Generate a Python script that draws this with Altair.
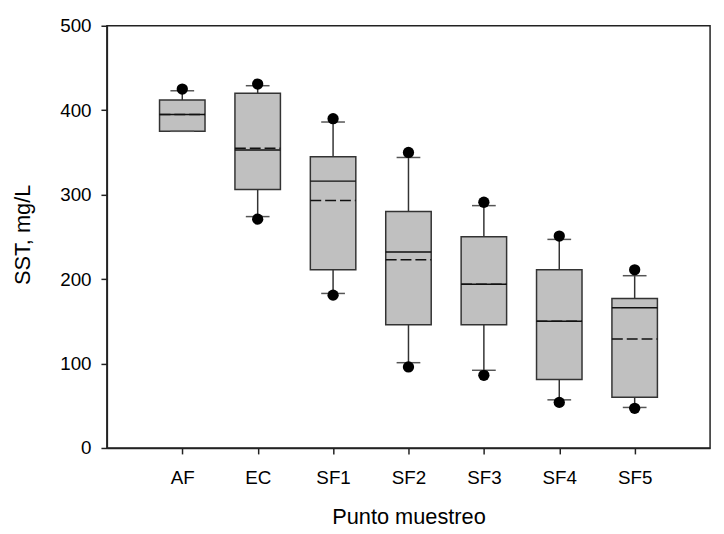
import altair as alt
import pandas as pd

categories = ["AF", "EC", "SF1", "SF2", "SF3", "SF4", "SF5"]
q1 = [375, 306, 211, 146, 146, 81, 60]
median = [395, 353, 316, 232, 194, 150, 166]
mean = [395, 355, 293, 223, 194, 150, 129]
q3 = [412, 420, 345, 280, 250, 211, 177]
whisker_low = [375, 274, 183, 101, 92, 57, 48]
whisker_high = [423, 429, 386, 344, 287, 247, 204]
outlier_low = [None, 271, 181, 96, 86, 54, 47]
outlier_high = [425, 431, 390, 350, 291, 251, 211]

df = pd.DataFrame({
    "cat": categories, "q1": q1, "median": median, "mean": mean, "q3": q3,
    "wlo": whisker_low, "whi": whisker_high,
    "olo": outlier_low, "ohi": outlier_high,
})

FONT = "Liberation Sans"
yscale = alt.Scale(domain=[0, 500], nice=False)
yaxis = alt.Axis(values=[0, 100, 200, 300, 400, 500], titleX=-78, titleY=211,
                 titleBaseline="alphabetic", labelPadding=10)
xaxis = alt.Axis(labelAngle=0, labelBaseline="alphabetic", labelPadding=30,
                 titleY=76, titleBaseline="alphabetic")


def Y(field):
    return alt.Y(field, type="quantitative", scale=yscale, axis=yaxis, title="SST, mg/L")


X = alt.X("cat:N", sort=categories, scale=alt.Scale(type="point", padding=1),
          axis=xaxis, title="Punto muestreo")
base = alt.Chart(df).encode(x=X)

w_hi = base.mark_rule(color="#333", strokeWidth=1.5).encode(y=Y("q3"), y2="whi:Q")
w_lo = base.mark_rule(color="#333", strokeWidth=1.5).encode(y=Y("wlo"), y2="q1:Q")
box = base.mark_bar(size=46, fill="#c0c0c0", stroke="#333", strokeWidth=1.5).encode(
    y=Y("q1"), y2="q3:Q")
med = base.mark_rule(color="#111", strokeWidth=1.5, xOffset=-23, x2Offset=23).encode(
    x2=alt.X2("cat"), y=Y("median"))
mn = base.mark_rule(color="#111", strokeWidth=1.5, strokeDash=[11, 4],
                    xOffset=-23, x2Offset=23).encode(x2=alt.X2("cat"), y=Y("mean"))
cap_hi = base.mark_rule(color="#555", strokeWidth=1.5, xOffset=-12, x2Offset=12).encode(
    x2=alt.X2("cat"), y=Y("whi"))
cap_lo = base.mark_rule(color="#555", strokeWidth=1.5, xOffset=-12, x2Offset=12).encode(
    x2=alt.X2("cat"), y=Y("wlo"))
dot_hi = base.mark_circle(size=130, color="black", opacity=1).encode(y=Y("ohi"))
dot_lo = base.mark_circle(size=130, color="black", opacity=1).encode(y=Y("olo"))

chart = alt.layer(w_hi, w_lo, box, med, mn, cap_hi, cap_lo, dot_hi, dot_lo).properties(
    width=610, height=427, autosize="none",
    padding={"left": 100, "top": 15, "right": 6, "bottom": 80},
    background="white",
).configure_view(stroke="#222", strokeWidth=1.5).configure_axis(
    grid=False, labelFont=FONT, titleFont=FONT, labelFontSize=19, titleFontSize=22,
    labelColor="black", titleColor="black", titleFontWeight="normal",
    domainColor="#222", domainWidth=1.5, tickColor="#222", tickWidth=1.5, tickSize=6,
)

chart.save("out.html", embed_options={"renderer": "svg", "actions": False})
